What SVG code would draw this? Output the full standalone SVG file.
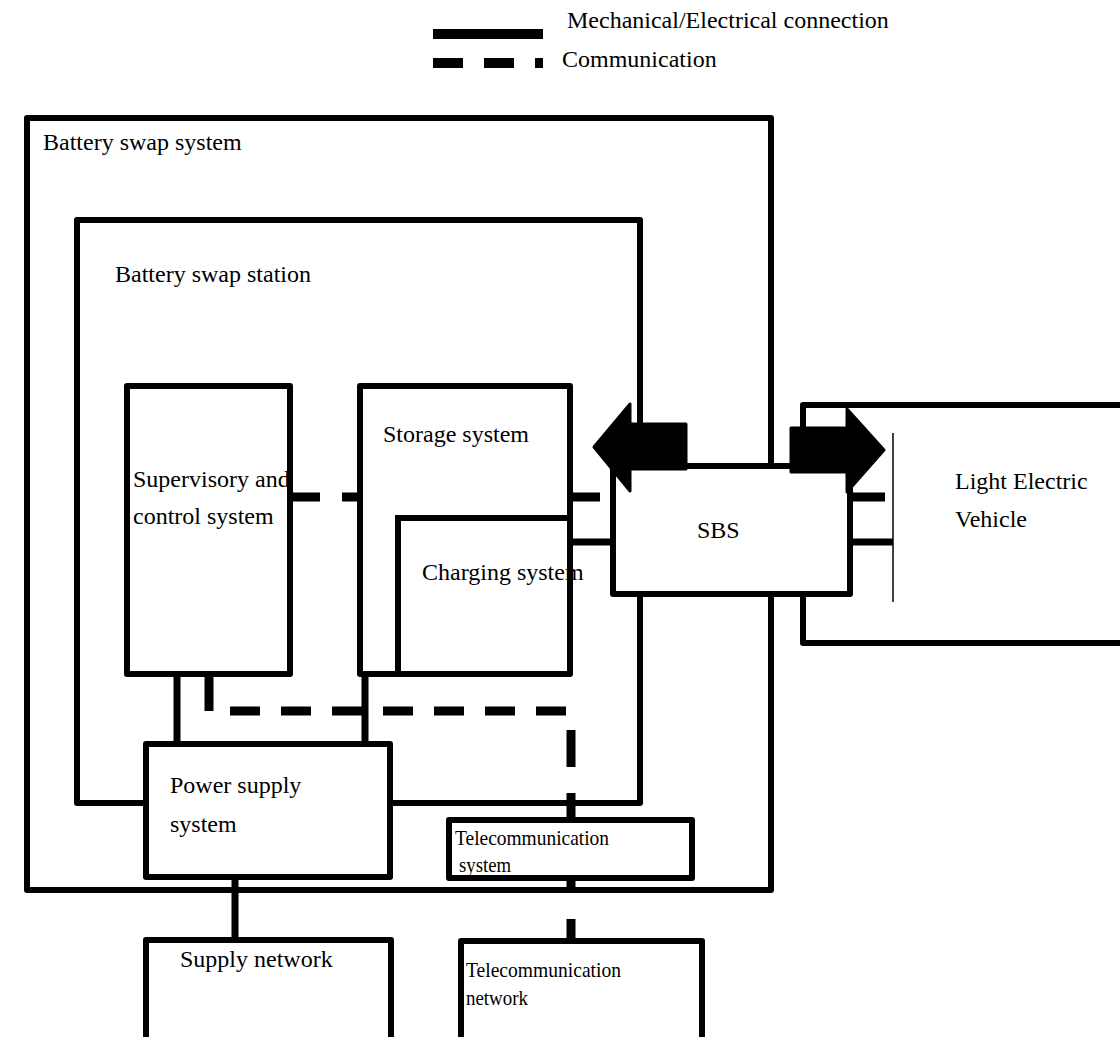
<svg xmlns="http://www.w3.org/2000/svg" width="1120" height="1037" viewBox="0 0 1120 1037">
<style>
.box{fill:none;stroke:#000;stroke-width:6;stroke-linejoin:round}
.wbox{fill:#fff;stroke:#000;stroke-width:6;stroke-linejoin:round}
.solid{fill:none;stroke:#000;stroke-width:7}
.dash{fill:none;stroke:#000;stroke-width:9}
.arrow{fill:#000;stroke:#000;stroke-width:3;stroke-linejoin:round}
text{font-family:"Liberation Serif","Times New Roman",serif;font-size:24px;fill:#000}
.small{font-size:21px}
</style>
<rect width="1120" height="1037" fill="#fff"/>
<g id="legend">
<line x1="433" y1="34" x2="543" y2="34" stroke="#000" stroke-width="10"/>
<line x1="433" y1="63" x2="543" y2="63" stroke="#000" stroke-width="10" stroke-dasharray="30 21"/>
<text x="567" y="28">Mechanical/Electrical connection</text>
<text x="562" y="67">Communication</text>
</g>
<g id="battery-swap-system">
<rect class="box" x="27" y="118" width="744" height="772"/>
<text x="43" y="150">Battery swap system</text>
</g>
<g id="battery-swap-station">
<rect class="box" x="77" y="220" width="563" height="583"/>
<text x="115" y="282">Battery swap station</text>
</g>
<g id="light-electric-vehicle">
<rect class="box" x="803" y="405" width="330" height="238"/>
<line x1="893" y1="433" x2="893" y2="602" stroke="#000" stroke-width="1.5"/>
<text x="955" y="489">Light Electric</text>
<text x="955" y="527">Vehicle</text>
</g>
<g id="connectors">
<line class="solid" x1="177" y1="677" x2="177" y2="742"/>
<line class="solid" x1="365" y1="677" x2="365" y2="742"/>
<line class="solid" x1="573" y1="542" x2="610" y2="542"/>
<line class="solid" x1="853" y1="542" x2="893" y2="542"/>
<line class="solid" x1="235" y1="880" x2="235" y2="938"/>
<line class="dash" x1="293" y1="497" x2="357" y2="497" stroke-dasharray="27 22"/>
<line class="dash" x1="573" y1="497" x2="600" y2="497"/>
<line class="dash" x1="853" y1="497" x2="885" y2="497"/>
<line class="dash" x1="209" y1="677" x2="209" y2="711"/>
<line class="dash" x1="230" y1="711" x2="567" y2="711" stroke-dasharray="30 21"/>
<line class="dash" x1="571" y1="730" x2="571" y2="940" stroke-dasharray="37 26"/>
</g>
<g id="supervisory-control-system">
<rect class="wbox" x="127" y="386" width="163" height="288"/>
<text x="133" y="487">Supervisory and</text>
<text x="133" y="524">control system</text>
</g>
<g id="storage-system">
<rect class="wbox" x="360" y="386" width="210" height="288"/>
<text x="383" y="442">Storage system</text>
</g>
<g id="charging-system">
<path d="M398 674 V518 H570" fill="none" stroke="#000" stroke-width="6"/>
<text x="422" y="580">Charging system</text>
</g>
<g id="power-supply-system">
<rect class="wbox" x="146" y="744" width="244" height="133"/>
<text x="170" y="793">Power supply</text>
<text x="170" y="832">system</text>
</g>
<g id="telecommunication-system">
<rect class="wbox" x="449" y="820" width="243" height="58"/>
<text class="small" x="455" y="845" textLength="154" lengthAdjust="spacingAndGlyphs">Telecommunication</text>
<text class="small" x="459" y="872" textLength="52" lengthAdjust="spacingAndGlyphs">system</text>
</g>
<g id="supply-network">
<rect class="wbox" x="146" y="940" width="245" height="120"/>
<text x="180" y="967">Supply network</text>
</g>
<g id="telecommunication-network">
<rect class="wbox" x="461" y="941" width="241" height="120"/>
<text class="small" x="466" y="977" textLength="155" lengthAdjust="spacingAndGlyphs">Telecommunication</text>
<text class="small" x="466" y="1005" textLength="62" lengthAdjust="spacingAndGlyphs">network</text>
</g>
<g id="sbs">
<rect class="wbox" x="613" y="466" width="237" height="128"/>
<text x="697" y="538">SBS</text>
</g>
<g id="swap-arrows">
<polygon class="arrow" points="594,447 630,404 630,424 686,424 686,469 630,469 630,491"/>
<polygon class="arrow" points="884,450 847,409 847,428 791,428 791,472 847,472 847,492"/>
</g>
</svg>
